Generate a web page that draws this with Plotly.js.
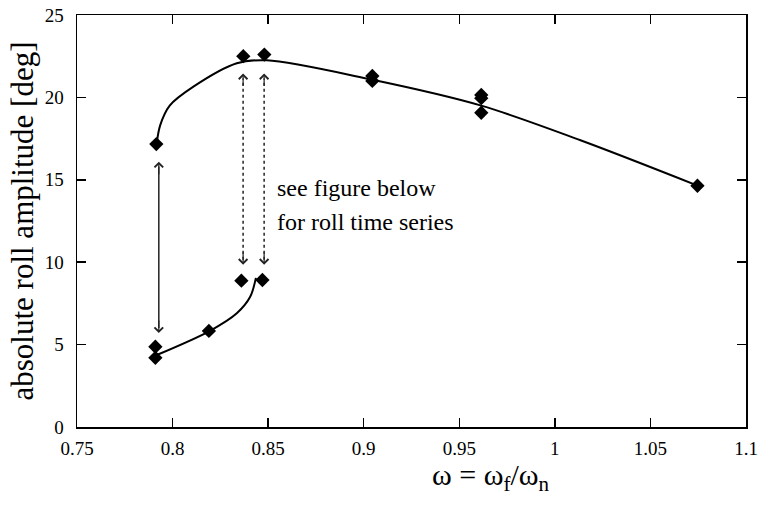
<!DOCTYPE html>
<html>
<head>
<meta charset="utf-8">
<script src="https://cdn.plot.ly/plotly-3.0.1.min.js"></script>
<style>html,body{margin:0;padding:0;background:#fff}#plot{width:760px;height:505px}</style>
</head>
<body>
<div id="plot"></div>
<script>
// measured points (markers)
var ptX = [0.7915, 0.837, 0.848, 0.9045, 0.9045, 0.9615, 0.9615, 0.9615, 1.0746, 0.791, 0.791, 0.819, 0.836, 0.847];
var ptY = [17.17, 22.5, 22.6, 21.3, 21.0, 20.15, 19.95, 19.07, 14.64, 4.87, 4.2, 5.83, 8.88, 8.92];

// upper branch curve
var upX = [0.7917, 0.7935, 0.7985, 0.8109, 0.8336, 0.8493, 0.9034, 0.9615, 1.0134, 1.0746];
var upY = [17.2, 18.3, 19.5, 20.65, 22.07, 22.25, 21.1, 19.5, 17.4, 14.65];

// lower branch curve
var loX = [0.7917, 0.8196, 0.8336, 0.8406, 0.8436];
var loY = [4.37, 5.84, 6.9, 7.9, 9.05];

// double arrows: x, top tip, bottom tip, dash
var arX = [0.7928, 0.8369, 0.8479];
var arTop = [16.1, 21.45, 21.45];
var arBot = [5.7, 9.85, 9.85];
var arDash = ['solid', 'dot', 'dot'];

var xTicks = [0.75, 0.8, 0.85, 0.9, 0.95, 1, 1.05, 1.1];
var xTickText = ['0.75', '0.8', '0.85', '0.9', '0.95', '1', '1.05', '1.1'];
var yTicks = [0, 5, 10, 15, 20, 25];
var noteLines = ['see figure below', 'for roll time series'];
var noteY = [14.5, 12.45];

var FONT = 'Liberation Serif, Times New Roman, serif';

var traces = [
  {x: upX, y: upY, mode: 'lines', line: {color: '#000', width: 2, shape: 'spline', smoothing: 0.9}, hoverinfo: 'skip'},
  {x: loX, y: loY, mode: 'lines', line: {color: '#000', width: 2, shape: 'spline', smoothing: 0.9}, hoverinfo: 'skip'},
  {x: ptX, y: ptY, mode: 'markers', marker: {symbol: 'diamond', size: 11, color: '#000'}}
];

var shapes = [];
var annotations = [];
for (var i = 0; i < arX.length; i++) {
  shapes.push({type: 'line', xref: 'x', yref: 'y', x0: arX[i], x1: arX[i], y0: arBot[i] + 0.3, y1: arTop[i] - 0.3,
    line: {color: '#222', width: 1.5, dash: arDash[i]}});
  annotations.push({x: arX[i], y: arTop[i], xref: 'x', yref: 'y', ax: 0, ay: 14, text: '', showarrow: true,
    arrowhead: 4, arrowsize: 1.4, arrowwidth: 1.2, arrowcolor: '#222'});
  annotations.push({x: arX[i], y: arBot[i], xref: 'x', yref: 'y', ax: 0, ay: -14, text: '', showarrow: true,
    arrowhead: 4, arrowsize: 1.4, arrowwidth: 1.2, arrowcolor: '#222'});
}
for (var j = 0; j < noteLines.length; j++) {
  annotations.push({x: 0.8537, y: noteY[j], xref: 'x', yref: 'y', xanchor: 'left', yanchor: 'middle', align: 'left',
    text: noteLines[j], showarrow: false, font: {family: FONT, size: 24, color: '#000'}});
}
// x-axis title (placed as in the reference, right of centre)
annotations.push({x: 0.9668, y: -0.122, xref: 'x', yref: 'paper', xanchor: 'center', yanchor: 'middle',
  text: 'ω = ω<sub>f</sub>/ω<sub>n</sub>', showarrow: false, font: {family: FONT, size: 30, color: '#000'}});

var layout = {
  width: 760, height: 505,
  margin: {l: 77, r: 14, t: 15, b: 78},
  paper_bgcolor: '#fff', plot_bgcolor: '#fff',
  showlegend: false,
  font: {family: FONT, color: '#000'},
  xaxis: {
    range: [0.75, 1.1], tickvals: xTicks, ticktext: xTickText,
    ticks: 'inside', ticklen: 9, tickwidth: 1.5, tickcolor: '#000', mirror: 'ticks',
    showline: true, linecolor: '#000', linewidth: 1.5, showgrid: false, zeroline: false,
    tickfont: {family: FONT, size: 19, color: '#000'}, ticklabelstandoff: 4
  },
  yaxis: {
    range: [0, 25], tickvals: yTicks,
    ticks: 'inside', ticklen: 9, tickwidth: 1.5, tickcolor: '#000', mirror: 'ticks',
    showline: true, linecolor: '#000', linewidth: 1.5, showgrid: false, zeroline: false,
    tickfont: {family: FONT, size: 19, color: '#000'}, ticklabelstandoff: 8,
    title: {text: 'absolute roll amplitude [deg]', font: {family: FONT, size: 31, color: '#000'}, standoff: 2}
  },
  shapes: shapes,
  annotations: annotations
};

Plotly.newPlot('plot', traces, layout, {displayModeBar: false, staticPlot: true});
</script>
</body>
</html>
